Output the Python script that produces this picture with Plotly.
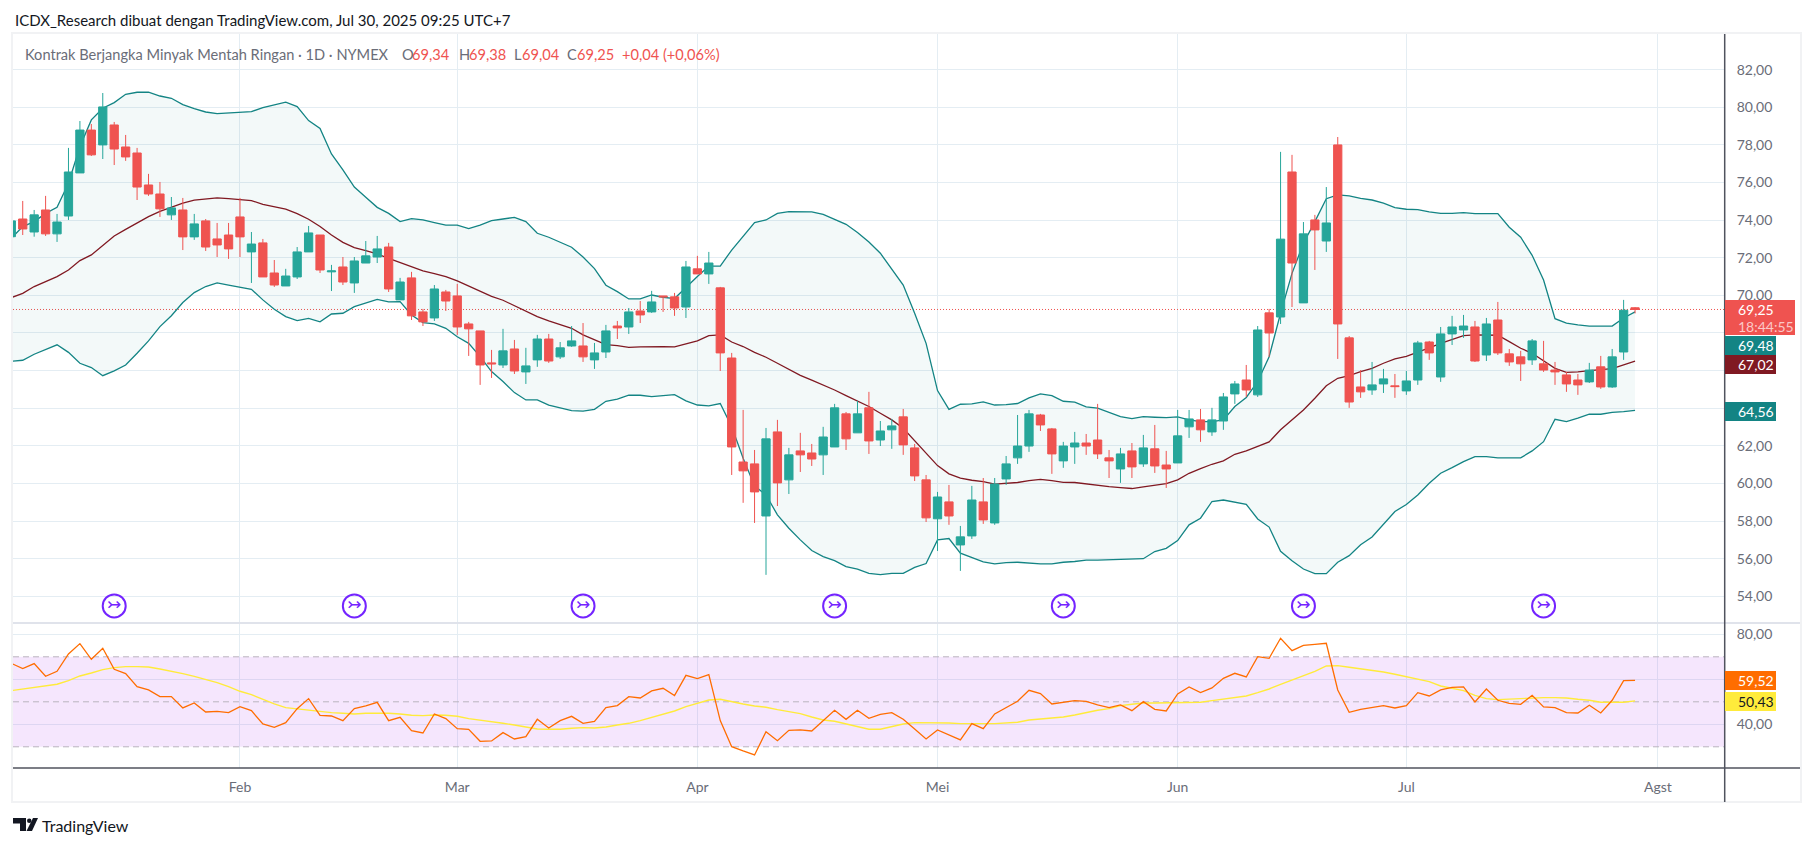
import plotly.graph_objects as go

W, H = 1814, 847

# daily bars, index 0 = first visible bar
opens = [
    73.12, 74.06, 73.37, 74.54, 73.27, 74.22, 76.51, 78.79, 78.00, 79.06,
    77.89, 77.57, 75.87, 75.39, 74.28, 74.54, 73.11, 73.96, 73.00, 73.21,
    74.17, 72.31, 72.79, 71.19, 70.50, 70.98, 72.31, 73.21, 71.25, 71.51,
    70.66, 71.72, 72.04, 72.57, 69.76, 70.93, 69.12, 68.80, 70.18, 69.97,
    68.48, 68.11, 66.41, 66.30, 67.15, 65.93, 66.57, 67.68, 66.73, 67.31,
    67.31, 66.57, 66.99, 68.37, 68.32, 69.17, 69.12, 69.97, 69.92, 69.38,
    71.41, 71.14, 70.40, 66.67, 61.14, 61.04, 58.27, 62.74, 60.19, 61.73,
    61.62, 61.52, 61.94, 63.70, 62.69, 64.02, 62.31, 62.85, 63.54, 61.89,
    60.19, 58.12, 59.02, 56.73, 57.21, 59.02, 57.90, 60.24, 61.36, 61.99,
    63.64, 62.90, 61.20, 61.94, 62.15, 62.31, 61.36, 60.77, 61.73, 61.04,
    61.84, 60.98, 61.09, 63.01, 63.38, 62.74, 63.32, 64.76, 65.50, 64.71,
    69.07, 68.85, 76.56, 69.60, 74.01, 72.89, 78.00, 67.74, 65.13, 64.97,
    65.29, 65.19, 64.92, 65.50, 67.52, 65.66, 67.95, 68.16, 68.32, 66.83,
    68.69, 66.89, 66.73, 66.57, 66.36, 66.03, 65.77, 65.50, 65.40, 66.20,
    65.13, 66.99, 69.34,
]
closes = [
    73.96, 73.53, 74.28, 73.27, 73.90, 76.56, 78.79, 77.47, 80.02, 77.78,
    77.36, 75.76, 75.39, 74.60, 74.65, 73.11, 73.80, 72.57, 72.68, 72.47,
    73.11, 72.73, 70.98, 70.55, 71.03, 72.31, 73.32, 71.35, 71.30, 70.71,
    71.83, 72.10, 72.47, 70.34, 70.71, 68.91, 68.59, 70.34, 69.70, 68.32,
    68.22, 66.30, 66.36, 67.05, 65.98, 66.25, 67.68, 66.51, 67.21, 67.58,
    66.73, 66.94, 68.11, 68.27, 69.12, 68.96, 69.65, 69.92, 69.33, 71.51,
    71.14, 71.72, 66.94, 61.94, 60.67, 59.55, 62.37, 60.03, 61.52, 61.52,
    61.30, 62.47, 64.02, 62.37, 63.70, 62.26, 62.79, 63.06, 62.05, 60.40,
    58.17, 59.28, 58.27, 57.16, 59.12, 58.06, 59.97, 61.04, 61.99, 63.70,
    63.11, 61.57, 61.99, 62.15, 61.99, 61.57, 61.20, 61.57, 60.88, 61.89,
    60.93, 60.77, 62.53, 63.43, 62.85, 63.38, 64.60, 65.29, 64.97, 68.16,
    68.00, 72.99, 71.72, 73.27, 73.48, 73.85, 68.48, 64.33, 64.87, 65.24,
    65.56, 65.15, 65.45, 67.47, 66.94, 67.95, 68.32, 68.37, 66.51, 68.48,
    66.94, 66.46, 66.36, 67.58, 66.03, 65.93, 65.29, 65.24, 66.03, 65.13,
    66.73, 69.21, 69.25,
]
highs = [
    74.10, 75.02, 74.54, 75.29, 74.33, 77.84, 79.27, 79.11, 80.76, 79.22,
    78.53, 77.84, 76.46, 76.03, 75.23, 75.18, 74.33, 74.06, 73.85, 73.85,
    75.18, 73.37, 73.00, 71.88, 71.41, 72.57, 73.69, 73.21, 71.62, 72.04,
    72.04, 72.89, 73.16, 72.79, 70.93, 71.25, 69.28, 70.55, 70.29, 70.61,
    68.59, 68.11, 67.10, 68.22, 67.63, 67.21, 67.90, 67.95, 67.52, 68.37,
    68.53, 67.47, 68.43, 68.64, 69.33, 69.70, 70.24, 69.97, 70.13, 71.83,
    72.10, 72.31, 70.45, 66.94, 63.91, 61.78, 62.95, 63.38, 61.89, 62.69,
    62.10, 63.01, 64.23, 63.80, 64.39, 64.87, 63.32, 63.43, 63.96, 62.10,
    60.45, 59.55, 59.92, 57.74, 59.87, 60.29, 60.29, 61.46, 63.64, 63.91,
    63.70, 62.95, 62.21, 62.74, 62.63, 64.23, 61.78, 61.89, 62.15, 62.58,
    63.11, 61.73, 63.91, 63.91, 63.96, 64.02, 64.81, 65.45, 66.30, 68.37,
    69.28, 77.63, 77.47, 73.90, 74.28, 75.76, 78.42, 67.84, 66.03, 66.46,
    66.09, 65.82, 65.98, 67.58, 67.58, 68.32, 68.91, 68.96, 68.64, 68.80,
    69.65, 67.15, 67.05, 67.68, 67.58, 66.46, 65.93, 65.82, 66.41, 66.78,
    67.15, 69.76, 69.38,
]
lows = [
    72.95, 73.21, 73.12, 73.16, 72.84, 74.01, 76.51, 77.41, 77.25, 76.93,
    77.15, 75.07, 75.29, 74.17, 74.01, 72.41, 72.95, 72.36, 72.04, 71.94,
    72.04, 70.66, 70.98, 70.45, 70.50, 70.87, 72.31, 71.19, 70.23, 70.55,
    70.13, 71.72, 71.72, 70.18, 69.76, 68.69, 68.37, 68.64, 69.17, 67.90,
    66.78, 65.24, 65.61, 66.14, 65.82, 65.29, 66.20, 66.41, 66.62, 67.26,
    66.46, 66.09, 66.67, 67.68, 67.95, 68.53, 69.07, 69.12, 68.91, 68.80,
    71.14, 70.61, 65.98, 60.45, 58.97, 57.90, 55.14, 58.80, 59.44, 60.61,
    60.93, 60.45, 61.94, 61.78, 62.69, 61.57, 61.99, 61.84, 61.52, 60.13,
    57.95, 56.41, 57.80, 55.35, 57.05, 57.85, 57.80, 59.92, 61.04, 61.68,
    62.79, 60.51, 60.83, 61.04, 61.52, 61.30, 60.29, 60.03, 60.29, 60.88,
    60.56, 59.76, 61.09, 62.42, 62.21, 62.53, 62.85, 64.23, 64.60, 64.60,
    66.73, 68.48, 69.38, 69.60, 71.35, 72.31, 66.62, 64.02, 64.55, 64.71,
    64.81, 64.55, 64.71, 65.24, 66.57, 65.40, 67.36, 67.74, 66.46, 66.51,
    66.83, 66.25, 65.45, 66.30, 65.93, 65.24, 64.87, 64.71, 65.34, 65.03,
    65.08, 66.57, 69.04,
]

# bollinger bands
bb_upper = [
    73.04, 73.66, 73.92, 74.36, 74.68, 75.96, 77.91, 79.33, 79.95, 80.25,
    80.69, 80.80, 80.80, 80.60, 80.48, 80.14, 79.93, 79.75, 79.66, 79.70,
    79.72, 79.77, 79.98, 80.14, 80.27, 80.04, 79.29, 78.87, 77.52, 76.67,
    75.76, 75.22, 74.68, 74.36, 73.92, 74.08, 74.01, 73.87, 73.73, 73.74,
    73.55, 73.73, 73.97, 74.06, 74.15, 73.92, 73.30, 73.09, 72.81, 72.56,
    72.04, 71.42, 70.54, 70.20, 69.81, 69.81, 70.02, 69.90, 69.83, 70.43,
    71.00, 71.56, 71.56, 72.41, 73.16, 73.87, 74.01, 74.36, 74.45, 74.44,
    74.44, 74.31, 74.06, 73.78, 73.34, 72.84, 72.24, 71.39, 70.55, 69.05,
    67.45, 64.94, 63.94, 64.21, 64.23, 64.34, 64.17, 64.19, 64.25, 64.55,
    64.76, 64.67, 64.37, 64.32, 64.07, 64.00, 63.78, 63.55, 63.45, 63.55,
    63.52, 63.50, 63.54, 63.38, 63.29, 63.29, 63.38, 64.09, 64.57, 65.42,
    66.74, 69.05, 71.17, 72.77, 73.92, 75.14, 75.34, 75.29, 75.16, 75.07,
    74.90, 74.67, 74.58, 74.56, 74.44, 74.36, 74.36, 74.40, 74.35, 74.36,
    74.35, 73.62, 73.09, 72.13, 70.82, 68.76, 68.52, 68.43, 68.37, 68.37,
    68.37, 68.80, 69.12,
]
bb_basis = [
    69.88, 70.11, 70.47, 70.73, 71.00, 71.35, 71.85, 72.15, 72.68, 73.16,
    73.51, 73.87, 74.19, 74.47, 74.68, 74.90, 75.06, 75.14, 75.18, 75.14,
    75.07, 75.04, 74.84, 74.70, 74.58, 74.35, 74.05, 73.66, 73.21, 72.82,
    72.54, 72.38, 72.20, 71.97, 71.74, 71.53, 71.30, 71.16, 71.00, 70.77,
    70.50, 70.20, 69.95, 69.74, 69.46, 69.14, 68.87, 68.64, 68.43, 68.25,
    67.90, 67.63, 67.38, 67.33, 67.24, 67.26, 67.29, 67.28, 67.26, 67.44,
    67.58, 67.86, 67.90, 67.52, 67.28, 66.97, 66.71, 66.39, 66.07, 65.75,
    65.49, 65.24, 64.97, 64.67, 64.37, 64.09, 63.73, 63.38, 62.93, 62.28,
    61.61, 60.95, 60.51, 60.28, 60.17, 60.10, 59.96, 60.01, 60.05, 60.15,
    60.22, 60.15, 60.06, 60.05, 59.97, 59.92, 59.83, 59.78, 59.73, 59.82,
    59.92, 59.99, 60.19, 60.54, 60.79, 61.02, 61.20, 61.55, 61.73, 61.96,
    62.21, 62.85, 63.38, 63.91, 64.53, 65.19, 65.59, 65.73, 65.95, 66.12,
    66.39, 66.62, 66.76, 66.97, 67.21, 67.45, 67.67, 67.86, 67.90, 67.90,
    67.88, 67.54, 67.19, 66.92, 66.51, 66.12, 65.91, 65.93, 66.00, 66.07,
    66.11, 66.30, 66.50,
]
bb_lower = [
    66.50, 66.55, 66.87, 67.13, 67.37, 66.97, 66.39, 66.16, 65.73, 65.99,
    66.30, 66.92, 67.58, 68.34, 68.92, 69.62, 70.15, 70.47, 70.66, 70.55,
    70.43, 70.32, 69.76, 69.26, 68.87, 68.66, 68.78, 68.59, 69.01, 69.05,
    69.40, 69.58, 69.79, 69.65, 69.67, 68.96, 68.55, 68.48, 68.25, 67.80,
    67.45, 66.74, 65.95, 65.42, 64.83, 64.44, 64.44, 64.16, 64.02, 63.87,
    63.84, 63.94, 64.37, 64.48, 64.69, 64.69, 64.62, 64.67, 64.72, 64.39,
    64.17, 64.12, 64.25, 63.02, 61.34, 59.87, 59.39, 58.33, 57.62, 57.00,
    56.43, 56.11, 55.90, 55.58, 55.44, 55.22, 55.15, 55.22, 55.22, 55.54,
    55.74, 57.00, 57.07, 56.29, 56.08, 55.83, 55.72, 55.79, 55.81, 55.76,
    55.72, 55.72, 55.81, 55.85, 55.92, 55.92, 55.93, 55.97, 55.99, 56.00,
    56.38, 56.55, 56.96, 57.80, 58.15, 59.04, 59.12, 59.02, 58.89, 58.11,
    57.68, 56.39, 55.89, 55.45, 55.20, 55.20, 55.81, 56.16, 56.74, 57.15,
    57.84, 58.51, 58.88, 59.39, 60.01, 60.54, 60.84, 61.16, 61.43, 61.43,
    61.36, 61.36, 61.36, 61.73, 62.22, 63.41, 63.29, 63.47, 63.68, 63.68,
    63.78, 63.82, 63.89,
]

rsi = [
    67.11, 64.74, 66.96, 61.33, 63.55, 71.26, 75.85, 68.89, 73.78, 64.44,
    62.52, 56.74, 55.26, 52.30, 52.30, 47.26, 49.48, 45.48, 45.78, 45.18,
    47.85, 46.07, 40.15, 38.67, 40.74, 46.96, 51.41, 44.00, 43.70, 41.63,
    46.96, 48.15, 49.78, 41.63, 43.11, 37.18, 36.15, 44.59, 42.52, 38.07,
    37.78, 32.44, 32.59, 36.30, 33.48, 34.52, 42.22, 38.37, 41.63, 43.54,
    40.44, 41.33, 47.41, 48.30, 52.30, 51.70, 54.81, 56.00, 52.74, 61.77,
    60.30, 62.07, 41.63, 30.07, 28.15, 26.37, 36.74, 32.74, 37.33, 37.48,
    37.04, 41.48, 46.22, 42.22, 46.22, 42.67, 44.44, 45.18, 42.22, 37.93,
    33.48, 37.48, 35.26, 33.04, 40.30, 38.07, 44.59, 47.56, 50.22, 55.11,
    53.63, 49.04, 49.93, 50.52, 50.22, 48.59, 47.41, 48.59, 46.07, 50.07,
    46.67, 45.92, 53.48, 56.59, 54.07, 56.15, 60.44, 62.67, 61.04, 70.07,
    69.33, 78.22, 72.74, 75.11, 75.56, 76.00, 55.26, 45.33, 46.67, 47.56,
    48.30, 47.26, 48.30, 54.07, 52.59, 55.26, 56.44, 56.59, 49.93, 55.70,
    50.67, 49.33, 48.89, 52.89, 47.70, 47.41, 45.18, 45.03, 48.44, 45.03,
    50.67, 59.41, 59.52,
]
rsi_ma = [
    54.96, 55.70, 56.44, 57.18, 57.78, 59.41, 61.48, 62.81, 64.30, 65.18,
    65.63, 65.63, 65.48, 64.59, 63.70, 62.52, 61.33, 60.00, 58.52, 56.74,
    54.67, 53.18, 50.96, 49.04, 47.41, 46.81, 46.22, 45.78, 45.18, 44.89,
    44.59, 44.89, 45.04, 44.89, 44.59, 44.00, 43.85, 44.15, 44.00, 43.56,
    42.52, 41.93, 41.04, 40.44, 39.70, 38.67, 37.93, 37.78, 37.78, 38.22,
    38.52, 38.37, 38.81, 39.70, 40.44, 41.63, 42.96, 44.44, 45.92, 47.85,
    49.19, 50.81, 51.11, 49.93, 49.04, 48.15, 47.56, 46.52, 45.63, 44.74,
    43.26, 41.93, 41.33, 40.15, 39.26, 37.78, 37.78, 38.81, 40.15, 40.74,
    40.74, 40.74, 40.59, 40.30, 40.44, 40.30, 40.30, 40.44, 40.89, 41.93,
    42.37, 42.81, 43.26, 44.15, 45.33, 46.22, 46.96, 48.30, 48.89, 49.48,
    49.48, 49.63, 49.63, 49.63, 49.78, 50.52, 51.26, 52.00, 52.59, 54.07,
    55.70, 57.78, 59.70, 61.48, 63.55, 65.93, 66.07, 65.33, 64.74, 64.15,
    63.26, 62.22, 61.04, 60.00, 58.96, 57.04, 56.00, 54.96, 52.89, 51.41,
    50.96, 51.26, 51.56, 51.70, 51.85, 51.85, 51.70, 51.11, 50.67, 49.78,
    49.63, 49.78, 50.43,
]

bars = list(range(len(closes)))
event_bars = [9, 30, 50, 72, 92, 113, 134]
event_level = [53.49] * len(event_bars)

month_bars = [20, 39, 60, 81, 102, 122, 144]
month_labels = ["Feb", "Mar", "Apr", "Mei", "Jun", "Jul", "Agst"]
price_ticks = [54, 56, 58, 60, 62, 64, 66, 68, 70, 72, 74, 76, 78, 80, 82]
# 64, 66 and 68 sit behind the price tags
price_tick_labels = ["54,00", "56,00", "58,00", "60,00", "62,00", "", "", "", "70,00",
                     "72,00", "74,00", "76,00", "78,00", "80,00", "82,00"]
rsi_ticks = [40, 60, 80]
rsi_tick_labels = ["40,00", "", "80,00"]
rsi_bands = [30, 50, 70]
last_price = 69.25

UP = "#26a69a"
DOWN = "#ef5350"
TEAL = "#138484"
MAROON = "#801922"
ORANGE = "#ff6d00"
YELLOW = "#ffeb3b"
PURPLE = "#7424ff"
GRID = "#e4edf3"
EDGE = "#f1f2f4"
AXIS = "#50535e"
FONT = "Lato"

x_range = [0.149, 149.84]
price_range = [52.58, 83.95]


def px(x):
    return x / W


def py(y):
    return 1 - y / H


fig = go.Figure()

# bands go on the base y axis so the candles (on y3, overlaid) sit on top of them
fig.add_trace(go.Scatter(x=bars, y=bb_upper, mode="lines", line=dict(color=TEAL, width=1.3)))
fig.add_trace(go.Scatter(x=bars, y=bb_lower, mode="lines", line=dict(color=TEAL, width=1.3),
                         fill="tonexty", fillcolor="rgba(19,132,132,0.05)"))
fig.add_trace(go.Scatter(x=bars, y=bb_basis, mode="lines", line=dict(color=MAROON, width=1.3)))

fig.add_trace(go.Candlestick(
    x=bars, open=opens, high=highs, low=lows, close=closes, yaxis="y3", whiskerwidth=0,
    increasing=dict(line=dict(color=UP, width=1), fillcolor=UP),
    decreasing=dict(line=dict(color=DOWN, width=1), fillcolor=DOWN),
))

# the purple event icons
fig.add_trace(go.Scatter(x=event_bars, y=event_level, mode="markers+text", yaxis="y3",
                         text=["↣"] * len(event_bars), textposition="middle center",
                         textfont=dict(family="DejaVu Sans", size=17, color=PURPLE),
                         marker=dict(symbol="circle-open", size=23, color=PURPLE,
                                     line=dict(color=PURPLE, width=2))))

fig.add_trace(go.Scatter(x=bars, y=rsi_ma, mode="lines", yaxis="y2", line=dict(color=YELLOW, width=1.4)))
fig.add_trace(go.Scatter(x=bars, y=rsi, mode="lines", yaxis="y2", line=dict(color=ORANGE, width=1.3)))

shapes = [
    # rsi band and its dashed levels
    dict(type="rect", xref="x", yref="y2", x0=x_range[0], x1=x_range[1], y0=rsi_bands[0], y1=rsi_bands[2],
         fillcolor="rgba(170,50,240,0.12)", line=dict(width=0), layer="between"),
    dict(type="line", xref="x", yref="y", x0=x_range[0], x1=x_range[1], y0=last_price, y1=last_price,
         line=dict(color=DOWN, width=1, dash="1px,2px"), layer="between"),
]
for level in rsi_bands:
    shapes.append(dict(type="line", xref="x", yref="y2", x0=x_range[0], x1=x_range[1], y0=level, y1=level,
                       line=dict(color="#b9b4be", width=1, dash="6px,4px"), layer="between"))


def paper_line(x0, y0, x1, y1, color, width=1):
    shapes.append(dict(type="line", xref="paper", yref="paper", x0=px(x0), x1=px(x1), y0=py(y0), y1=py(y1),
                       line=dict(color=color, width=width), layer="above"))


def paper_box(x0, y0, x1, y1, color):
    shapes.append(dict(type="rect", xref="paper", yref="paper", x0=px(x0), x1=px(x1), y0=py(y0), y1=py(y1),
                       fillcolor=color, line=dict(width=0), layer="above"))


# frame
paper_line(12, 33, 1802, 33, EDGE, 2)
paper_line(12, 32, 12, 803, EDGE, 2)
paper_line(1801, 32, 1801, 803, EDGE, 2)
paper_line(12, 802, 1802, 802, EDGE, 2)
paper_line(13, 623, 1800, 623, "#e0e3eb", 2)
paper_line(13, 768, 1800, 768, AXIS, 1.5)
paper_line(1724.7, 34, 1724.7, 802, AXIS, 1.5)

# price tags on the axis
paper_box(1725, 300, 1795, 335, DOWN)
paper_box(1725, 336, 1776, 355, TEAL)
paper_box(1725, 355, 1776, 374, MAROON)
paper_box(1725, 402, 1776, 421, TEAL)
paper_box(1725, 671, 1776, 690, ORANGE)
paper_box(1725, 692, 1776, 711, YELLOW)

# logo mark
shapes.append(dict(type="path", xref="paper", yref="paper", fillcolor="#131722", line=dict(width=0), layer="above",
                   path="M {} {} L {} {} L {} {} L {} {} L {} {} L {} {} Z".format(
                       px(13), py(818), px(26), py(818), px(26), py(831),
                       px(20), py(831), px(20), py(823.5), px(13), py(823.5))))
shapes.append(dict(type="circle", xref="paper", yref="paper", fillcolor="#131722", line=dict(width=0), layer="above",
                   x0=px(27), x1=px(31.5), y0=py(823), y1=py(818.5)))
shapes.append(dict(type="path", xref="paper", yref="paper", fillcolor="#131722", line=dict(width=0), layer="above",
                   path="M {} {} L {} {} L {} {} L {} {} Z".format(
                       px(33), py(818), px(38), py(818), px(32), py(831), px(26.5), py(831))))

annotations = []


def label(text, x, y, color, size=14, anchor="left"):
    annotations.append(dict(text=text, xref="paper", yref="paper", x=px(x), y=py(y), xanchor=anchor, yanchor="middle",
                            showarrow=False, font=dict(family=FONT, size=size, color=color), align="left"))


label("ICDX_Research dibuat dengan TradingView.com, Jul 30, 2025 09:25 UTC+7", 13, 20, "#131722", 15)
label("Kontrak Berjangka Minyak Mentah Ringan · 1D · NYMEX", 23, 54, "#6a6d78", 14.6)
for letter, value, x_letter, x_value in [
    ("O", "69,34", 400, 410), ("H", "69,38", 457, 467), ("L", "69,04", 512, 520), ("C", "69,25", 565, 575),
]:
    label(letter, x_letter, 54, "#6a6d78", 14.6)
    label(value, x_value, 54, DOWN, 14.6)
label("+0,04 (+0,06%)", 620, 54, DOWN, 14.6)

label("69,25", 1736, 309, "#ffffff", 14)
label("18:44:55", 1736, 326, "#fbc7c6", 14)
label("69,48", 1736, 345.5, "#ffffff", 14)
label("67,02", 1736, 364.5, "#ffffff", 14)
label("64,56", 1736, 411.5, "#ffffff", 14)
label("59,52", 1736, 680.5, "#ffffff", 14)
label("50,43", 1736, 701.5, "#131722", 14)
label("TradingView", 40, 825, "#131722", 16)

tick_font = dict(family=FONT, size=14, color="#6a6d78")

fig.update_layout(
    width=W, height=H, margin=dict(l=0, r=0, t=0, b=0), autosize=False,
    paper_bgcolor="white", plot_bgcolor="white", showlegend=False,
    boxgap=0.15, boxgroupgap=0.15, hovermode=False,
    shapes=shapes, annotations=annotations,
    xaxis=dict(domain=[px(13), px(1724.7)], range=x_range, anchor="y2",
               tickmode="array", tickvals=month_bars, ticktext=month_labels, ticks="", tickfont=tick_font,
               ticklabelstandoff=9, showgrid=True, gridcolor=GRID, gridwidth=1, zeroline=False,
               showline=False, rangeslider=dict(visible=False)),
    yaxis=dict(domain=[py(623), py(33)], range=price_range, anchor="x", side="right",
               tickmode="array", tickvals=price_ticks, ticktext=price_tick_labels, ticks="", tickfont=tick_font,
               ticklabelstandoff=11, showgrid=True, gridcolor=GRID, gridwidth=1, zeroline=False, showline=False),
    yaxis2=dict(domain=[py(768), py(623)], range=[20.58, 85.02], anchor="x", side="right",
                tickmode="array", tickvals=rsi_ticks, ticktext=rsi_tick_labels, ticks="", tickfont=tick_font,
                ticklabelstandoff=11, showgrid=True, gridcolor=GRID, gridwidth=1, zeroline=False, showline=False),
    yaxis3=dict(domain=[py(623), py(33)], range=price_range, anchor="x", overlaying="y", side="right",
                visible=False, showgrid=False, zeroline=False),
)

fig.write_html("out.html", config={"displayModeBar": False},
               post_script="document.body.style.margin='0';document.body.style.overflow='hidden';")
